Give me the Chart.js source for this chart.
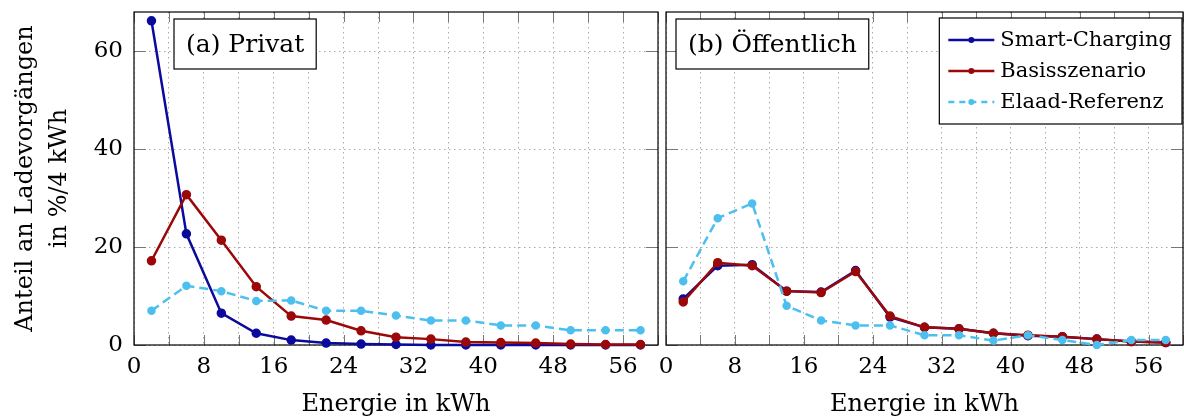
<!DOCTYPE html>
<html lang="de">
<head>
    <meta charset="UTF-8">
    <title>Ladevorgänge nach Energie</title>
    <style>
        body {
            margin: 0;
            background: #ffffff;
        }
        .panel {
            position: absolute;
            top: 0;
        }
    </style>
</head>
<body>
    <canvas id="chartPrivat" class="panel" width="662" height="419" style="left:0"></canvas>
    <canvas id="chartOeffentlich" class="panel" width="538" height="419" style="left:646px"></canvas>

    <script src="https://cdn.jsdelivr.net/npm/chart.js"></script>
    <script>
        // Daten
        const energie = [2, 6, 10, 14, 18, 22, 26, 30, 34, 38, 42, 46, 50, 54, 58];
        const xTickLabels = [0, 8, 16, 24, 32, 40, 48, 56];
        const yTickLabels = [0, 20, 40, 60];
        const seriesNames = ["Smart-Charging", "Basisszenario", "Elaad-Referenz"];

        const privatSmart = [66.2, 22.7, 6.5, 2.4, 1.0, 0.4, 0.2, 0.1, 0, 0, 0, 0, 0, 0, 0];
        const privatBasis = [17.2, 30.7, 21.4, 11.9, 5.9, 5.1, 2.9, 1.6, 1.2, 0.6, 0.5, 0.4, 0.2, 0.1, 0.1];
        const privatElaad = [7.0, 12.1, 11.0, 9.0, 9.1, 7.0, 7.0, 6.0, 5.0, 5.0, 4.0, 4.0, 3.0, 3.0, 3.0];

        const oeffSmart = [9.4, 16.2, 16.4, 11.0, 10.8, 15.2, 5.7, 3.6, 3.3, 2.4, 1.9, 1.7, 1.2, 0.7, 0.5];
        const oeffBasis = [8.8, 16.8, 16.2, 11.0, 10.7, 15.0, 5.9, 3.6, 3.3, 2.4, 2.0, 1.7, 1.2, 0.7, 0.5];
        const oeffElaad = [13.0, 25.9, 28.9, 8.0, 5.0, 4.0, 4.0, 2.0, 2.0, 0.9, 2.0, 1.0, 0.0, 1.0, 1.0];

        const FONT = "'DejaVu Serif', serif";
        const colors = ["#0a0a9c", "#9c0808", "#4cbfef"];

        function toPoints(values) {
            return values.map((v, i) => ({ x: energie[i], y: v }));
        }

        function makeDatasets(smart, basis, elaad) {
            return [
                {
                    label: seriesNames[0], data: toPoints(smart),
                    borderColor: colors[0], backgroundColor: colors[0],
                    borderWidth: 2.5, pointRadius: 3.5, order: 3
                },
                {
                    label: seriesNames[1], data: toPoints(basis),
                    borderColor: colors[1], backgroundColor: colors[1],
                    borderWidth: 2.5, pointRadius: 3.5, order: 2
                },
                {
                    label: seriesNames[2], data: toPoints(elaad),
                    borderColor: colors[2], backgroundColor: colors[2],
                    borderWidth: 2.5, pointRadius: 3, borderDash: [9, 5], order: 1
                }
            ];
        }

        // keine automatischen Ränder durch Achsenbeschriftungen
        function noPadding(s) {
            s.paddingLeft = 0; s.paddingRight = 0;
            s.paddingTop = 0; s.paddingBottom = 0;
        }

        // Rahmen und nach innen zeigende Striche wie bei pgfplots
        const framePlugin = {
            id: "frame",
            beforeDatasetsDraw(chart) {
                const { ctx, chartArea: a, scales } = chart;
                ctx.save();
                ctx.strokeStyle = "#777";
                ctx.lineWidth = 1;
                ctx.beginPath();
                scales.x.ticks.forEach(t => {
                    const px = Math.round(scales.x.getPixelForValue(t.value)) + 0.5;
                    ctx.moveTo(px, a.bottom); ctx.lineTo(px, a.bottom - 10);
                    ctx.moveTo(px, a.top); ctx.lineTo(px, a.top + 10);
                });
                scales.y.ticks.forEach(t => {
                    const py = Math.round(scales.y.getPixelForValue(t.value)) + 0.5;
                    ctx.moveTo(a.left, py); ctx.lineTo(a.left + 12, py);
                    ctx.moveTo(a.right, py); ctx.lineTo(a.right - 12, py);
                });
                ctx.stroke();
                ctx.strokeStyle = "#000";
                ctx.lineWidth = 1.2;
                ctx.strokeRect(a.left, a.top, a.right - a.left, a.bottom - a.top);
                ctx.restore();
            },
            afterDraw(chart, args, opts) {
                const { ctx, chartArea: a } = chart;
                ctx.save();
                // Panel-Beschriftung
                ctx.font = "25px " + FONT;
                ctx.textBaseline = "middle";
                const w = ctx.measureText(opts.label).width + 24;
                const bx = a.left + opts.labelOffset, by = a.top + 7, bh = 50;
                ctx.fillStyle = "#fff";
                ctx.fillRect(bx, by, w, bh);
                ctx.strokeStyle = "#000";
                ctx.lineWidth = 1.2;
                ctx.strokeRect(bx, by, w, bh);
                ctx.fillStyle = "#000";
                ctx.fillText(opts.label, bx + 12, by + bh / 2 + 1);

                // Legende
                if (opts.legend) {
                    ctx.font = "21px " + FONT;
                    const sets = chart.data.datasets;
                    const tw = Math.max(...sets.map(d => ctx.measureText(d.label).width));
                    const lw = 61 + tw + 10, lh = 106;
                    const lx = a.right - 1 - lw, ly = a.top + 6;
                    ctx.fillStyle = "#fff";
                    ctx.fillRect(lx, ly, lw, lh);
                    ctx.strokeStyle = "#000";
                    ctx.strokeRect(lx, ly, lw, lh);
                    sets.forEach((d, i) => {
                        const yy = ly + 22 + i * 31;
                        ctx.strokeStyle = d.borderColor;
                        ctx.lineWidth = 2.5;
                        ctx.setLineDash(d.borderDash ? [6, 5] : []);
                        ctx.beginPath();
                        ctx.moveTo(lx + 9, yy); ctx.lineTo(lx + 55, yy);
                        ctx.stroke();
                        ctx.setLineDash([]);
                        ctx.fillStyle = d.backgroundColor;
                        ctx.beginPath();
                        ctx.arc(lx + 32, yy, 3, 0, Math.PI * 2);
                        ctx.fill();
                        ctx.fillStyle = "#000";
                        ctx.fillText(d.label, lx + 61, yy + 1);
                    });
                }
                ctx.restore();
            }
        };

        function makeChart(id, datasets, showY, padding, yWidth, panelOpts) {
            return new Chart(document.getElementById(id), {
                type: "line",
                data: { datasets: datasets },
                plugins: [framePlugin],
                options: {
                    responsive: false,
                    devicePixelRatio: 1,
                    animation: false,
                    layout: { padding: padding, autoPadding: false },
                    datasets: { line: { clip: false, tension: 0 } },
                    plugins: {
                        legend: { display: false },
                        tooltip: { enabled: false },
                        frame: panelOpts
                    },
                    scales: {
                        x: {
                            type: "linear", min: 0, max: 60,
                            afterFit(s) { s.height = 74; noPadding(s); },
                            grid: { color: "#aaa", lineWidth: 1, drawTicks: false },
                            border: { display: false, dash: [1.5, 3.5] },
                            ticks: {
                                stepSize: 4, autoSkip: false, maxRotation: 0, padding: 8,
                                color: "#000", font: { family: FONT, size: 23 },
                                callback: v => xTickLabels.includes(v) ? String(v) : ""
                            },
                            title: {
                                display: true, text: "Energie in kWh", color: "#000",
                                font: { family: FONT, size: 24 }, padding: { top: 0, bottom: 0 }
                            }
                        },
                        y: {
                            min: 0, max: 68,
                            afterFit(s) { s.width = yWidth; noPadding(s); },
                            afterBuildTicks(s) {
                                s.ticks = yTickLabels.map(v => ({ value: v }));
                            },
                            grid: { color: "#aaa", lineWidth: 1, drawTicks: false },
                            border: { display: false, dash: [1.5, 3.5] },
                            ticks: {
                                display: showY, padding: 11,
                                color: "#000", font: { family: FONT, size: 23 }
                            },
                            title: {
                                display: showY,
                                text: ["Anteil an Ladevorgängen", "in %/4 kWh"],
                                color: "#000",
                                font: { family: FONT, size: 24, lineHeight: 1.45 },
                                padding: { top: 8, bottom: 0 }
                            }
                        }
                    }
                }
            });
        }

        makeChart("chartPrivat", makeDatasets(privatSmart, privatBasis, privatElaad), true,
            { top: 12, right: 4, left: 0, bottom: 0 }, 134,
            { label: "(a) Privat", labelOffset: 40, legend: false });

        makeChart("chartOeffentlich", makeDatasets(oeffSmart, oeffBasis, oeffElaad), false,
            { top: 12, right: 1, left: 0, bottom: 0 }, 20,
            { label: "(b) Öffentlich", labelOffset: 10, legend: true });
    </script>
</body>
</html>
